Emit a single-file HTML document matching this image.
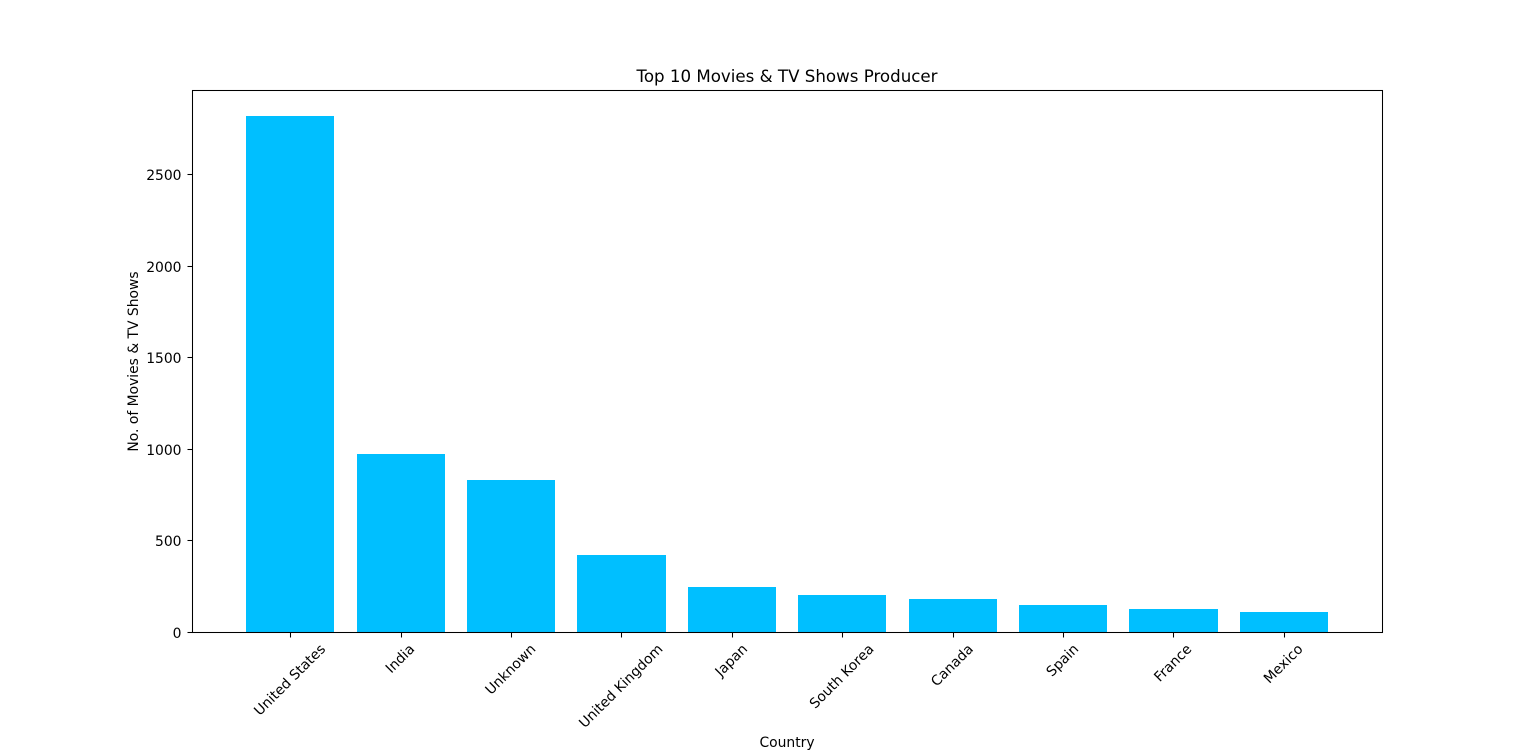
<!DOCTYPE html>
<html>
<head>
<meta charset="utf-8">
<title>Top 10 Movies &amp; TV Shows Producer</title>
<style>
html,body{margin:0;padding:0;background:#fff;width:1536px;height:754px;overflow:hidden}
svg{display:block}
text{font-family:"DejaVu Sans","Liberation Sans",sans-serif;fill:#000}
</style>
</head>
<body>
<svg id="chart" width="1536" height="754" viewBox="0 0 1536 754" xmlns="http://www.w3.org/2000/svg">
<text x="787" y="82" font-size="16.67" text-anchor="middle">Top 10 Movies &amp; TV Shows Producer</text>
<text x="787" y="747" font-size="13.89" text-anchor="middle">Country</text>
<text x="0" y="0" font-size="13.89" text-anchor="middle" transform="translate(138 361.5) rotate(-90)">No. of Movies &amp; TV Shows</text>
<g id="bars"></g>
<g id="ticks"></g>
<rect x="192.5" y="90.5" width="1190" height="542" fill="none" stroke="#000" stroke-width="1.05"></rect>
</svg>
<script>
const categories = ["United States","India","Unknown","United Kingdom","Japan","South Korea","Canada","Spain","France","Mexico"];
const seriesValues = [2818,972,831,419,245,201,181,145,124,110];
const yTickValues = [0,500,1000,1500,2000,2500];

const NS = "http://www.w3.org/2000/svg";
const plotOriginX = 192.08, plotWidth = 1190, plotBottom = 632.5, plotTop = 90.5;
const xMin = -0.89, xMax = 9.89;
const yMin = 0, yMax = 2959;
function xScale(v){ return plotOriginX + (v - xMin) / (xMax - xMin) * plotWidth; }
function yScale(v){ return plotBottom - (v - yMin) / (yMax - yMin) * (plotBottom - plotTop); }

const barsGroup = document.getElementById("bars");
const ticksGroup = document.getElementById("ticks");
const barWidth = 0.8;

categories.forEach(function(name, i){
  const r = document.createElementNS(NS, "rect");
  
  
  const x0 = Math.round(xScale(i - barWidth / 2)), x1 = Math.round(xScale(i + barWidth / 2));
  const top = Math.floor(yScale(seriesValues[i]));
  r.setAttribute("x", x0);
  r.setAttribute("width", x1 - x0);
  r.setAttribute("y", top);
  r.setAttribute("height", Math.floor(yScale(0)) - top);
  r.setAttribute("fill", "#00bfff");
  barsGroup.appendChild(r);

  const tx = Math.round(xScale(i)) + 0.5;
  const t = document.createElementNS(NS, "line");
  
  
  t.setAttribute("x1", tx); t.setAttribute("x2", tx);
  t.setAttribute("y1", plotBottom); t.setAttribute("y2", plotBottom + 5);
  t.setAttribute("stroke", "#000"); t.setAttribute("stroke-width", "1.05");
  ticksGroup.appendChild(t);

  const l = document.createElementNS(NS, "text");
  
  
  l.setAttribute("font-size", "13.89");
  l.setAttribute("text-anchor", "middle");
  l.textContent = name;
  ticksGroup.appendChild(l);
  const w = l.getComputedTextLength();
  const h = 13;
  const half = (w + h) * Math.SQRT1_2 / 2;
  const cy = plotBottom + 9.2 + half;
  const cx = xScale(i) - 0.9;
  l.setAttribute("transform", "translate(" + cx + " " + cy + ") rotate(-45) translate(0 5)");
});

yTickValues.forEach(function(v){
  const ty = Math.floor(yScale(v)) + 0.5;
  const t = document.createElementNS(NS, "line");
  
  
  t.setAttribute("x1", 187.5); t.setAttribute("x2", 192.5);
  t.setAttribute("y1", ty); t.setAttribute("y2", ty);
  t.setAttribute("stroke", "#000"); t.setAttribute("stroke-width", "1.05");
  ticksGroup.appendChild(t);

  const l = document.createElementNS(NS, "text");
  
  
  l.setAttribute("font-size", "13.89");
  l.setAttribute("text-anchor", "end");
  l.setAttribute("x", 181.5);
  l.setAttribute("y", ty + 5.5);
  l.textContent = v;
  ticksGroup.appendChild(l);
});
</script>
</body>
</html>
